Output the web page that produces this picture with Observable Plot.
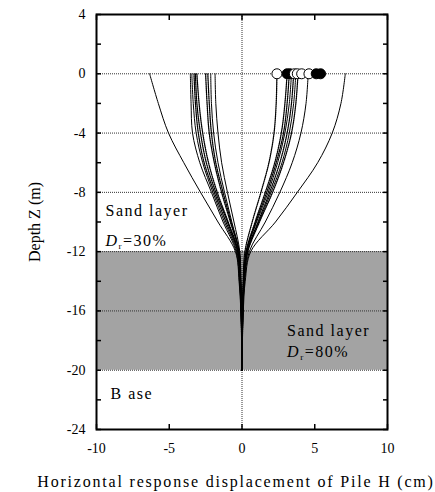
<!DOCTYPE html>
<html>
<head>
<meta charset="utf-8">
<script src="https://cdn.jsdelivr.net/npm/d3@7"></script>
<script src="https://cdn.jsdelivr.net/npm/@observablehq/plot@0.6"></script>
<style>
  html, body { margin: 0; padding: 0; background: #fff; }
  #chart { width: 435px; height: 492px; }
  #chart svg, #chart svg text { font-family: "Liberation Serif", "DejaVu Serif", serif !important; }
</style>
</head>
<body>
<div id="chart"></div>
<script>
// ---- data ----
const depths = [0, -2, -4, -6, -8, -10, -12, -14, -16, -18, -20];

const leftOuter   = [-6.35, -5.75, -5.05, -4.0, -2.85, -1.65, -0.45, -0.2, -0.08, -0.03, 0];
const rightOuter  = [7.1, 6.8, 6.2, 5.2, 3.8, 2.3, 0.6, 0.22, 0.09, 0.03, 0];

const leftSolidA  = [-3.55, -3.5, -3.4, -2.9, -2.1, -1.3, -0.4, -0.18, -0.07, -0.02, 0];
const leftSolidB  = [-3.45, -3.35, -3.15, -2.7, -2.0, -1.2, -0.35, -0.15, -0.06, -0.02, 0];
const leftSolidC  = [-2.15, -2.1, -1.95, -1.65, -1.2, -0.7, -0.2, -0.1, -0.04, -0.01, 0];
const leftSolidD  = [-1.85, -1.8, -1.65, -1.4, -1.0, -0.55, -0.15, -0.08, -0.03, -0.01, 0];
const leftDotA    = [-3.3, -3.2, -3.0, -2.6, -1.9, -1.1, -0.3, -0.12, -0.05, -0.02, 0];
const leftDotB    = [-3.2, -3.1, -2.85, -2.45, -1.8, -1.0, -0.28, -0.12, -0.05, -0.02, 0];
const leftDotC    = [-3.1, -2.95, -2.7, -2.3, -1.7, -0.95, -0.25, -0.1, -0.04, -0.01, 0];
const leftDotD    = [-2.5, -2.4, -2.25, -1.9, -1.4, -0.8, -0.2, -0.09, -0.04, -0.01, 0];
const leftDotE    = [-2.35, -2.25, -2.1, -1.8, -1.3, -0.75, -0.2, -0.08, -0.03, -0.01, 0];

const rightDotA   = [2.4, 2.35, 2.2, 1.85, 1.3, 0.7, 0.2, 0.08, 0.03, 0.01, 0];
const rightDotB   = [3.1, 2.95, 2.7, 2.25, 1.6, 0.9, 0.28, 0.11, 0.04, 0.01, 0];
const rightDotC   = [3.25, 3.1, 2.85, 2.35, 1.7, 0.95, 0.3, 0.12, 0.05, 0.02, 0];
const rightSolidA = [3.4, 3.25, 2.95, 2.45, 1.8, 1.0, 0.32, 0.13, 0.05, 0.02, 0];
const rightDotD   = [3.55, 3.4, 3.1, 2.6, 1.9, 1.1, 0.35, 0.14, 0.05, 0.02, 0];
const rightSolidB = [3.7, 3.55, 3.25, 2.75, 2.0, 1.15, 0.38, 0.15, 0.06, 0.02, 0];
const rightDotE   = [3.85, 3.7, 3.4, 2.85, 2.1, 1.2, 0.4, 0.15, 0.06, 0.02, 0];
const rightSolidC = [4.55, 4.4, 4.05, 3.45, 2.6, 1.6, 0.5, 0.18, 0.07, 0.02, 0];

// pile-head markers at Z = 0 (drawing order matters)
const headX      = [3.1, 3.3, 3.6, 3.8, 4.1, 4.6, 5.1, 5.4, 2.4];
const headFilled = [true, true, false, false, false, false, true, true, false];

const xTicks = [-10, -5, 0, 5, 10];
const yTicks = [4, 0, -4, -8, -12, -16, -20, -24];
const yMinorTicks = [4, 2, 0, -2, -4, -6, -8, -10, -12, -14, -16, -18, -20, -22, -24];
const gridDepths = [0, -4, -8, -12, -16, -20];
const layers = [{top: -12, bottom: -20}];
const labels = [
  {text: "Sand layer", x: -9.38, z: -9.6},
  {text: "Dr=30%", x: -9.38, z: -11.6},
  {text: "Sand layer", x: 3.1, z: -17.66},
  {text: "Dr=80%", x: 3.1, z: -19.14},
  {text: "B ase", x: -9.04, z: -21.93}
];

// ---- table ----
const curves = [
  ["leftOuter", leftOuter, false], ["rightOuter", rightOuter, false],
  ["leftSolidA", leftSolidA, false], ["leftSolidB", leftSolidB, false],
  ["leftSolidC", leftSolidC, false], ["leftSolidD", leftSolidD, false],
  ["leftDotA", leftDotA, true], ["leftDotB", leftDotB, true], ["leftDotC", leftDotC, true],
  ["leftDotD", leftDotD, true], ["leftDotE", leftDotE, true],
  ["rightDotA", rightDotA, true], ["rightDotB", rightDotB, true], ["rightDotC", rightDotC, true],
  ["rightSolidA", rightSolidA, false], ["rightDotD", rightDotD, true],
  ["rightSolidB", rightSolidB, false], ["rightDotE", rightDotE, true],
  ["rightSolidC", rightSolidC, false]
];
const rows = curves.flatMap(([name, vals, dotted]) =>
  vals.map((v, i) => ({curve: name, x: v, z: depths[i], dotted})));
const heads = headX.map((x, i) => ({x, z: 0, filled: headFilled[i]}));

const fmt = d => String(d);
const serif = "Liberation Serif, DejaVu Serif, serif";

const plot = Plot.plot({
  width: 435,
  height: 492,
  marginLeft: 96,
  marginRight: 48,
  marginTop: 14,
  marginBottom: 63,
  style: "font-family: 'Liberation Serif', serif; font-size: 14px; color: #000; background: #fff;",
  x: {domain: [-10, 10]},
  y: {domain: [-24, 4]},
  marks: [
    Plot.rect(layers, {y1: "bottom", y2: "top", fill: "#a3a3a3"}),
    Plot.ruleY(gridDepths, {stroke: "#333", strokeDasharray: "1,1", strokeWidth: 1}),
    Plot.ruleX([0], {stroke: "#333", strokeDasharray: "1,1", strokeWidth: 1}),
    Plot.line(rows.filter(d => !d.dotted), {x: "x", y: "z", z: "curve", stroke: "#000", strokeWidth: 1, curve: "catmull-rom"}),
    Plot.line(rows.filter(d => d.dotted), {x: "x", y: "z", z: "curve", stroke: "#000", strokeWidth: 1.3, strokeDasharray: "1,1", curve: "catmull-rom"}),
    Plot.dot(heads, {x: "x", y: "z", r: 5, fill: d => d.filled ? "#000" : "#fff", stroke: "#000", strokeWidth: 1}),
    // text axes
    Plot.axisX({anchor: "bottom", ticks: xTicks, tickSize: 0, tickPadding: 14, tickFormat: fmt, label: null, fontSize: 14, fontFamily: serif}),
    Plot.axisY({anchor: "left", ticks: yTicks, tickSize: 0, tickPadding: 11, tickFormat: fmt, label: null, fontSize: 14, fontFamily: serif}),
    // inward ticks
    Plot.axisX({anchor: "bottom", ticks: xTicks, tickSize: 5, dy: -5, fill: "none", strokeWidth: 1.5}),
    Plot.axisX({anchor: "top", ticks: xTicks, tickSize: 5, dy: 5, fill: "none", strokeWidth: 1.5}),
    Plot.axisY({anchor: "left", ticks: yMinorTicks, tickSize: 5, dx: 5, fill: "none", strokeWidth: 1.5}),
    Plot.axisY({anchor: "right", ticks: yMinorTicks, tickSize: 5, dx: -5, fill: "none", strokeWidth: 1.5}),
    Plot.frame({stroke: "#000", strokeWidth: 2}),
    // annotations
    Plot.text(labels, {x: "x", y: "z", text: "text", textAnchor: "start", lineAnchor: "bottom", fontSize: 16, fontFamily: serif, fill: "#000"}),
    // axis titles
    Plot.text(["Depth Z (m)"], {frameAnchor: "left", dx: -62, rotate: -90, textAnchor: "middle", lineAnchor: "middle", fontSize: 16, fontFamily: serif, fill: "#000"}),
    Plot.text(["Horizontal response displacement of Pile H (cm)"], {frameAnchor: "bottom", dx: -6, dy: 57.7, textAnchor: "middle", lineAnchor: "bottom", fontSize: 16, fontFamily: serif, fill: "#000"})
  ]
});

// post-process rich text and spacing
d3.select(plot).selectAll("text").each(function() {
  const t = d3.select(this);
  const s = t.text();
  if (s === "Horizontal response displacement of Pile H (cm)") {
    t.style("letter-spacing", "1.8px");
  }
  if (s === "Sand layer" || s === "B ase") {
    t.style("letter-spacing", "1.5px");
  }
  const m = /^Dr(=.*)$/.exec(s);
  if (m) {
    t.style("letter-spacing", "1.5px");
    t.text("");
    t.append("tspan").attr("font-style", "italic").text("D");
    t.append("tspan").attr("font-size", "9px").attr("dy", "3").text("r");
    t.append("tspan").attr("dy", "-3").text(m[1]);
  }
});

document.getElementById("chart").appendChild(plot);
</script>
</body>
</html>
